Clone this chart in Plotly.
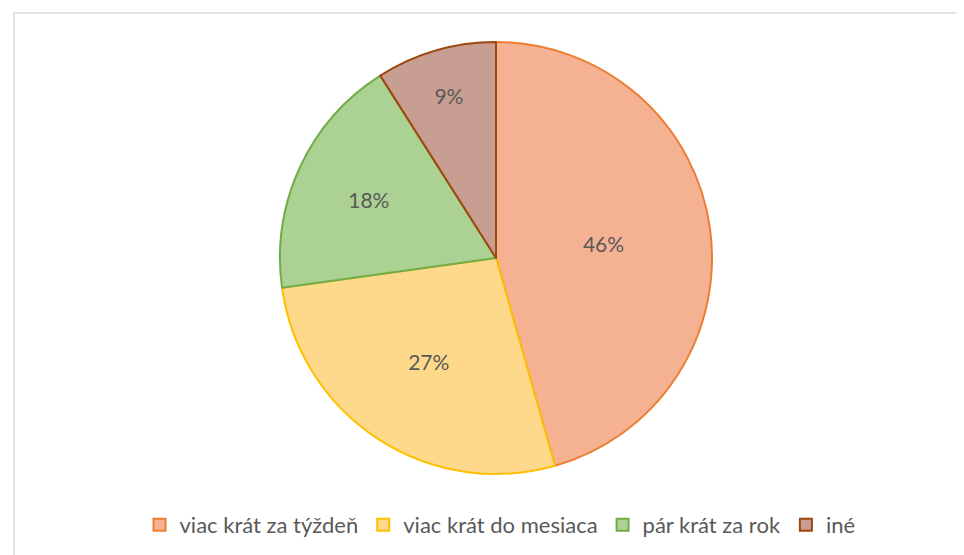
import plotly.graph_objects as go

categories = ["viac krát za týždeň", "viac krát do mesiaca", "pár krát za rok", "iné"]
values = [45.6, 27.2, 18.2, 9.0]
fill_colors = ["#F5B293", "#FED88B", "#ABD292", "#C99E92"]
line_colors = ["#ED7D31", "#FFC000", "#70AD47", "#9E480E"]

W, H = 964, 555
OFF = 8  # page body margin offset
cx, cy, R = 496 - OFF, 258 - OFF, 216

fig = go.Figure(go.Pie(
    labels=categories,
    values=values,
    sort=False,
    direction="clockwise",
    rotation=0,
    marker=dict(colors=fill_colors, line=dict(color=line_colors, width=2)),
    textinfo="percent",
    texttemplate="%{percent:.0%}",
    textposition="inside",
    insidetextorientation="horizontal",
    textfont=dict(family="Lato, Open Sans, sans-serif", size=21, color="#595959"),
    domain=dict(x=[(cx - R) / W, (cx + R) / W], y=[1 - (cy + R) / H, 1 - (cy - R) / H]),
    hoverinfo="label+percent",
))

fig.update_layout(
    width=W, height=H,
    margin=dict(l=0, r=0, t=0, b=0),
    paper_bgcolor="white",
    plot_bgcolor="white",
    showlegend=True,
    legend=dict(
        orientation="h",
        x=(500 - OFF) / W, xanchor="center",
        y=1 - (525 - OFF) / H, yanchor="middle",
        font=dict(family="Lato, Open Sans, sans-serif", size=22, color="#595959"),
        itemwidth=30,
        traceorder="normal",
    ),
    shapes=[dict(
        type="rect", xref="paper", yref="paper",
        x0=(14 - OFF) / W, x1=1.05, y0=-0.05, y1=1 - (13 - OFF) / H,
        line=dict(color="#D9D9D9", width=1.5),
        fillcolor="rgba(0,0,0,0)", layer="below",
    )],
)

fig.write_html("out.html")
